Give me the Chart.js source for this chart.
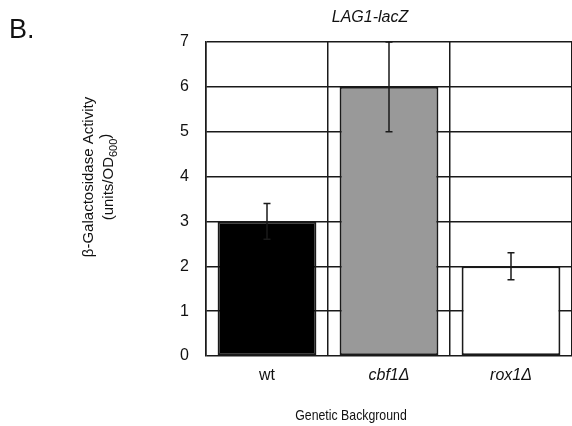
<!DOCTYPE html>
<html>
<head>
<meta charset="utf-8">
<script src="https://cdn.jsdelivr.net/npm/chart.js@4/dist/chart.umd.min.js"></script>
<style>
  html, body { margin: 0; padding: 0; background: #fff; overflow: hidden; }
  #wrap { position: relative; width: 572px; height: 426px; }
</style>
</head>
<body>
<div id="wrap"><canvas id="chartLag1" width="572" height="426"></canvas></div>
<script>
const categories = ["wt", "cbf1\u0394", "rox1\u0394"];
const activity = [3, 6, 2];
const activityError = [0.4, 1, 0.3];
const barColors = ["#000000", "#999999", "#ffffff"];
const yMin = 0;
const yMax = 7;
const yStep = 1;

const FONT = "'Liberation Sans', Arial, sans-serif";
const LINE = "#1a1a1a";

// error bars drawn on top of the bars
const errorBars = {
    id: "errorBars",
    afterDatasetsDraw(chart) {
        const { ctx, scales } = chart;
        ctx.save();
        ctx.strokeStyle = LINE;
        ctx.lineWidth = 1.5;
        activity.forEach((v, i) => {
            const x = scales.x.getPixelForValue(i);
            const hi = scales.y.getPixelForValue(Math.min(v + activityError[i], yMax));
            const lo = scales.y.getPixelForValue(v - activityError[i]);
            ctx.beginPath();
            ctx.moveTo(x, hi);
            ctx.lineTo(x, lo);
            ctx.moveTo(x - 3.5, hi);
            ctx.lineTo(x + 3.5, hi);
            ctx.moveTo(x - 3.5, lo);
            ctx.lineTo(x + 3.5, lo);
            ctx.stroke();
        });
        ctx.restore();
    },
};

// panel letter, title and axis titles
const labelsPlugin = {
    id: "labelsPlugin",
    afterDraw(chart) {
        const { ctx } = chart;
        ctx.save();
        ctx.fillStyle = "#111";
        ctx.textBaseline = "alphabetic";

        ctx.font = `27px ${FONT}`;
        ctx.textAlign = "left";
        ctx.fillText("B.", 9, 38);

        ctx.font = `italic 16px ${FONT}`;
        ctx.textAlign = "center";
        ctx.fillText("LAG1-lacZ", 370, 22);

        // x title, slightly narrow like the original
        ctx.save();
        ctx.translate(351, 420);
        ctx.scale(0.82, 1);
        ctx.font = `15px ${FONT}`;
        ctx.fillText("Genetic Background", 0, 0);
        ctx.restore();

        // rotated y title, two lines
        ctx.translate(0, 177);
        ctx.rotate(-Math.PI / 2);
        ctx.font = `15px ${FONT}`;
        ctx.textAlign = "center";
        ctx.fillText("\u03b2-Galactosidase Activity", 0, 93);

        const p1 = "(units/OD";
        const sub = "600";
        const p2 = ")";
        ctx.font = `15px ${FONT}`;
        const w1 = ctx.measureText(p1).width;
        const w3 = ctx.measureText(p2).width;
        ctx.font = `11px ${FONT}`;
        const w2 = ctx.measureText(sub).width;
        let x0 = -(w1 + w2 + w3) / 2;
        ctx.textAlign = "left";
        ctx.font = `15px ${FONT}`;
        ctx.fillText(p1, x0, 113);
        ctx.font = `11px ${FONT}`;
        ctx.fillText(sub, x0 + w1, 117);
        ctx.font = `15px ${FONT}`;
        ctx.fillText(p2, x0 + w1 + w2, 110);
        ctx.restore();
    },
};

new Chart(document.getElementById("chartLag1").getContext("2d"), {
    type: "bar",
    data: {
        labels: categories,
        datasets: [
            {
                data: activity,
                backgroundColor: barColors,
                borderColor: LINE,
                borderWidth: 2,
                borderSkipped: false,
                categoryPercentage: 1,
                barPercentage: 0.81,
            },
        ],
    },
    options: {
        responsive: false,
        animation: false,
        layout: { padding: { top: 42, left: 0, right: 0, bottom: 0 } },
        plugins: {
            legend: { display: false },
            tooltip: { enabled: false },
        },
        scales: {
            x: {
                offset: true,
                grid: {
                    offset: true,
                    color: LINE,
                    lineWidth: 1.5,
                    drawTicks: false,
                },
                border: { display: false },
                ticks: {
                    color: "#111",
                    padding: 10,
                    font: (c) => ({
                        family: FONT,
                        size: 16,
                        style: c.index === 0 ? "normal" : "italic",
                    }),
                },
                afterFit(scale) {
                    scale.height = 70;
                },
            },
            y: {
                min: yMin,
                max: yMax,
                ticks: {
                    stepSize: yStep,
                    color: "#111",
                    padding: 17,
                    font: { family: FONT, size: 16 },
                },
                grid: {
                    color: LINE,
                    lineWidth: 1.5,
                    drawTicks: false,
                },
                border: { display: true, color: LINE, width: 1.5 },
                afterFit(scale) {
                    scale.width = 206;
                },
            },
        },
    },
    plugins: [errorBars, labelsPlugin],
});
</script>
</body>
</html>
